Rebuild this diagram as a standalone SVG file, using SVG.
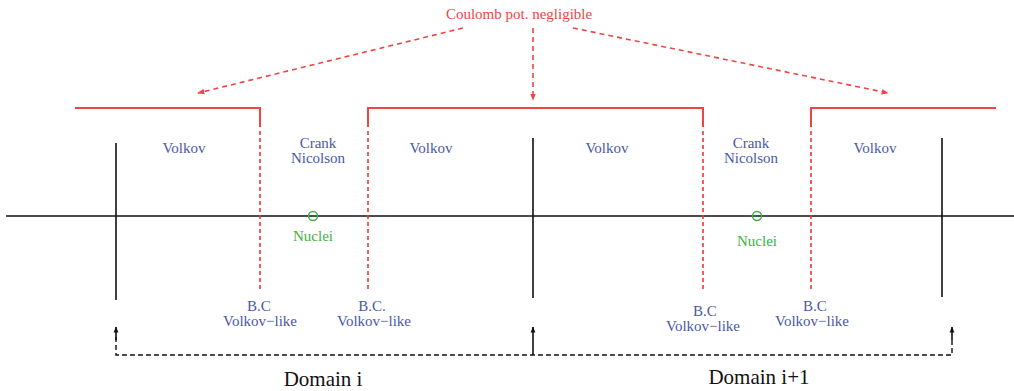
<svg xmlns="http://www.w3.org/2000/svg" width="1014" height="391" viewBox="0 0 1014 391">
<defs>
<style>
.red{fill:#f04545;font-family:"Liberation Serif",serif;font-size:15px}
.blue{fill:#4a58a8;font-family:"Liberation Serif",serif;font-size:15px}
.green{fill:#3fb03f;font-family:"Liberation Serif",serif;font-size:15px}
.dom{fill:#111;font-family:"Liberation Serif",serif;font-size:21px}
.rs{stroke:#f04545;stroke-width:2;fill:none}
.rd{stroke:#f03535;stroke-width:1.6;fill:none;stroke-dasharray:4 3}
.ra{stroke:#f04545;stroke-width:1.6;fill:none;stroke-dasharray:5 4}
.bk{stroke:#111;stroke-width:1.6;fill:none}
.bd{stroke:#111;stroke-width:1.4;fill:none;stroke-dasharray:5 3}
</style>
<marker id="ah" viewBox="0 0 10 10" refX="9" refY="5" markerWidth="7" markerHeight="7" orient="auto" markerUnits="userSpaceOnUse">
<path d="M0,1 L10,5 L0,9 Z" fill="#f04545"/>
</marker>
<marker id="bh" viewBox="0 0 10 10" refX="9" refY="5" markerWidth="8" markerHeight="6" orient="auto" markerUnits="userSpaceOnUse">
<path d="M0,1 L10,5 L0,9 Z" fill="#111"/>
</marker>
</defs>
<rect width="1014" height="391" fill="#fff"/>
<g id="connectors">
<line class="ra" x1="463" y1="28" x2="198" y2="93" marker-end="url(#ah)"/>
<line class="ra" x1="533" y1="28" x2="533" y2="100" marker-end="url(#ah)"/>
<line class="ra" x1="573" y1="28" x2="888" y2="93" marker-end="url(#ah)"/>
<path class="bd" d="M116,337 L116,355 L952,355 L952,337"/>
<line class="bk" x1="116" y1="340" x2="116" y2="327" marker-end="url(#bh)"/>
<line class="bk" x1="952" y1="340" x2="952" y2="327" marker-end="url(#bh)"/>
<line class="bk" x1="533" y1="355" x2="533" y2="327" marker-end="url(#bh)"/>
</g>
<g id="axis">
<line class="bk" x1="6" y1="216" x2="1014" y2="216"/>
<line class="bk" x1="116" y1="143" x2="116" y2="300"/>
<line class="bk" x1="533" y1="138" x2="533" y2="298"/>
<line class="bk" x1="942" y1="138" x2="942" y2="297"/>
</g>
<g id="regions">
<path class="rs" d="M75,108 L260,108 L260,127"/>
<path class="rs" d="M368,127 L368,108 L703,108 L703,127"/>
<path class="rs" d="M811,127 L811,108 L996,108"/>
<line class="rd" x1="260" y1="131" x2="260" y2="292"/>
<line class="rd" x1="368" y1="131" x2="368" y2="292"/>
<line class="rd" x1="703" y1="131" x2="703" y2="292"/>
<line class="rd" x1="811" y1="131" x2="811" y2="292"/>
</g>
<g id="title"><text class="red" x="519" y="19" text-anchor="middle">Coulomb pot. negligible</text></g>
<g id="volkov1"><text class="blue" x="184" y="153" text-anchor="middle">Volkov</text></g>
<g id="cn1"><text class="blue" x="318" y="148" text-anchor="middle">Crank</text><text class="blue" x="318" y="163" text-anchor="middle">Nicolson</text></g>
<g id="volkov2"><text class="blue" x="431" y="153" text-anchor="middle">Volkov</text></g>
<g id="volkov3"><text class="blue" x="607" y="153" text-anchor="middle">Volkov</text></g>
<g id="cn2"><text class="blue" x="751" y="148" text-anchor="middle">Crank</text><text class="blue" x="751" y="163" text-anchor="middle">Nicolson</text></g>
<g id="volkov4"><text class="blue" x="875" y="153" text-anchor="middle">Volkov</text></g>
<g id="nuclei1"><circle cx="313" cy="216" r="4.5" fill="none" stroke="#3fb03f" stroke-width="1.4"/><text class="green" x="313" y="241" text-anchor="middle">Nuclei</text></g>
<g id="nuclei2"><circle cx="757" cy="216" r="4.5" fill="none" stroke="#3fb03f" stroke-width="1.4"/><text class="green" x="757" y="246" text-anchor="middle">Nuclei</text></g>
<g id="bc1"><text class="blue" x="259" y="311" text-anchor="middle">B.C</text><text class="blue" x="260" y="326" text-anchor="middle">Volkov−like</text></g>
<g id="bc2"><text class="blue" x="372" y="311" text-anchor="middle">B.C.</text><text class="blue" x="374" y="326" text-anchor="middle">Volkov−like</text></g>
<g id="bc3"><text class="blue" x="705" y="316" text-anchor="middle">B.C</text><text class="blue" x="703" y="331" text-anchor="middle">Volkov−like</text></g>
<g id="bc4"><text class="blue" x="815" y="311" text-anchor="middle">B.C</text><text class="blue" x="812" y="326" text-anchor="middle">Volkov−like</text></g>
<g id="domain1"><text class="dom" x="323" y="386" text-anchor="middle">Domain i</text></g>
<g id="domain2"><text class="dom" x="759" y="384" text-anchor="middle">Domain i+1</text></g>
</svg>
